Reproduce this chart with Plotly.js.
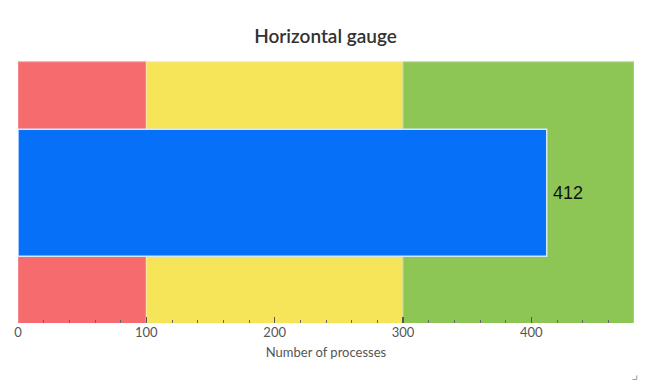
<!DOCTYPE html>
<html>
<head>
<meta charset="utf-8">
<script src="https://cdn.plot.ly/plotly-3.0.1.min.js"></script>
<style>html,body{margin:0;padding:0;background:#fff;}#chart{width:651px;height:382px;}</style>
</head>
<body>
<div id="chart"></div>
<script>
// Data
const bandStarts = [0, 100, 300];
const bandEnds = [100, 300, 480];
const bandColors = ["#f66b6e", "#f7e559", "#8dc655"];
const bandBorders = ["#f7a2a4", "#f9ee9c", "#bad99a"];
const gaugeValue = 412;
const tickValues = [0, 100, 200, 300, 400];
const tickLabels = ["0", "100", "200", "300", "400"];

const traces = bandStarts.map((s, i) => ({
  type: "bar",
  orientation: "h",
  y: [0],
  x: [bandEnds[i] - bandStarts[i]],
  base: [s],
  width: 1,
  marker: {color: bandColors[i], line: {color: bandBorders[i], width: 1}},
  hoverinfo: "skip",
  showlegend: false
}));

traces.push({
  type: "bar",
  orientation: "h",
  y: [0],
  x: [gaugeValue],
  base: [0],
  width: 0.485,
  marker: {color: "#0670f8", line: {color: "#d8e8fb", width: 1.5}},
  showlegend: false
});

const layout = {
  width: 651,
  height: 382,
  margin: {l: 18, r: 17, t: 61, b: 59},
  paper_bgcolor: "#fff",
  plot_bgcolor: "#fff",
  barmode: "overlay",
  bargap: 0,
  font: {family: "Lato, sans-serif", color: "#555"},
  title: {
    text: "Horizontal gauge",
    font: {family: "Lato, sans-serif", size: 19, color: "#333", weight: 600},
    x: 0.5, xanchor: "center", y: 0.906, yanchor: "middle"
  },
  xaxis: {
    range: [0, 480],
    tickvals: tickValues,
    ticktext: tickLabels,
    ticks: "inside",
    ticklen: 6,
    tickwidth: 1.5,
    tickcolor: "#555",
    tickfont: {family: "Lato, sans-serif", size: 13, color: "#555"},
    minor: {dtick: 20, ticks: "inside", ticklen: 3, tickwidth: 1, tickcolor: "#666", showgrid: false},
    showgrid: false,
    zeroline: false,
    showline: false,
    fixedrange: true,
    title: {text: "Number of processes", font: {family: "Lato, sans-serif", size: 13, color: "#555"}, standoff: 8}
  },
  yaxis: {
    range: [-0.497, 0.503],
    visible: false,
    fixedrange: true
  },
  annotations: [{
    x: gaugeValue, y: 0, xref: "x", yref: "y",
    text: String(gaugeValue),
    showarrow: false,
    xanchor: "left", yanchor: "middle",
    xshift: 4,
    font: {family: "Liberation Sans, Arial, sans-serif", size: 18, color: "#111"}
  }],
  shapes: [{
    type: "path", xref: "paper", yref: "paper",
    path: "M 1.0045 -0.2 L 1.0045 -0.2155 L 0.9975 -0.2155",
    line: {color: "#999", width: 1}
  }]
};

Plotly.newPlot("chart", traces, layout, {displayModeBar: false, staticPlot: true});
</script>
</body>
</html>
